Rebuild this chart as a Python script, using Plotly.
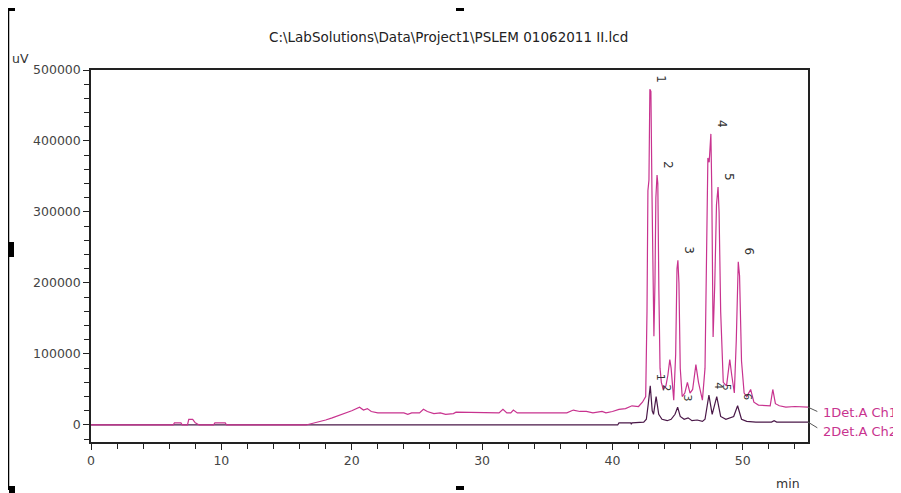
import plotly.graph_objects as go

# ---- data (time in min, signal in uV) ----
ch1_time = [0, 6.3, 6.4, 6.9, 7.0, 7.4, 7.5, 7.8, 8.0, 8.3, 9.4, 9.5, 10.3, 10.4, 16.5, 17.0, 17.5, 18.0, 18.5,
            19.0, 19.5, 20.0, 20.6, 20.9, 21.2, 21.5, 22.0, 24.0, 24.3, 24.6, 25.2, 25.5, 25.8, 26.3, 26.8, 27.2,
            27.8, 28.0, 31.3, 31.6, 31.9, 32.2, 32.4, 32.7, 34.0, 36.5, 37.0, 37.5, 38.0, 38.5, 39.2, 39.5, 40.0,
            40.5, 41.0, 41.5, 42.0, 42.3, 42.55, 42.65, 42.72, 42.8, 42.87, 42.95, 43.03, 43.1, 43.18, 43.26,
            43.33, 43.42, 43.48, 43.56, 43.65, 43.75, 43.9, 44.1, 44.25, 44.4, 44.5, 44.7, 44.85, 44.95, 45.02,
            45.1, 45.2, 45.35, 45.55, 45.75, 45.95, 46.15, 46.4, 46.6, 46.9, 47.1, 47.22, 47.32, 47.42, 47.55,
            47.62, 47.72, 47.85, 47.98, 48.1, 48.18, 48.3, 48.5, 48.75, 49.0, 49.15, 49.35, 49.5, 49.58, 49.65,
            49.75, 49.9, 50.1, 50.3, 50.6, 50.85, 51.2, 51.7, 52.1, 52.3, 52.5, 52.8, 53.3, 54.0, 55.0]
ch1_uv = [0, 0, 3000, 3000, 0, 0, 8000, 8000, 3000, 0, 0, 3000, 3000, 0, 0, 2000, 4000, 7000, 10000,
          13000, 17000, 20000, 25000, 21000, 23000, 19000, 17000, 17000, 15000, 17000, 17000, 22000, 19000, 16000, 17000, 15000,
          16000, 18000, 17000, 22000, 17000, 17000, 21000, 17000, 17000, 17000, 21000, 19000, 19000, 17000, 19000, 17000, 19000,
          22000, 23000, 27000, 26000, 32000, 40000, 160000, 330000, 345000, 473000, 470000, 330000, 180000, 125000, 200000,
          320000, 352000, 340000, 190000, 80000, 60000, 50000, 55000, 70000, 92000, 80000, 35000, 100000, 220000, 232000,
          200000, 80000, 40000, 45000, 60000, 45000, 50000, 85000, 60000, 35000, 80000, 260000, 376000, 370000, 410000,
          330000, 124000, 200000, 310000, 335000, 300000, 160000, 60000, 55000, 92000, 70000, 45000, 120000, 200000, 230000,
          210000, 90000, 45000, 40000, 50000, 32000, 28000, 27000, 27000, 50000, 30000, 27000, 25000, 26000, 25000]

ch2_time = [0, 40.4, 40.5, 41.4, 41.45, 41.5, 42.4, 42.6, 42.75, 42.9, 43.05, 43.15, 43.35, 43.55, 43.8, 44.2,
            44.5, 44.8, 45.0, 45.2, 45.5, 45.8, 46.1, 46.5, 46.9, 47.1, 47.4, 47.65, 48.0, 48.3, 48.7, 49.0,
            49.3, 49.6, 49.9, 50.3, 51.0, 52.2, 52.4, 52.6, 55.0]
ch2_uv = [0, 0, 3000, 3000, 1000, 3000, 4000, 8000, 30000, 55000, 20000, 15000, 40000, 15000, 8000, 6000,
          8000, 15000, 25000, 12000, 8000, 10000, 6000, 7000, 5000, 8000, 42000, 15000, 40000, 12000, 8000, 10000,
          12000, 27000, 8000, 5000, 4000, 4000, 6000, 4000, 4000]

peak_labels = ["1", "2", "3", "4", "5", "6"]
ch1_peak_time = [42.87, 43.42, 45.02, 47.55, 48.1, 49.65]
ch1_peak_uv = [473000, 352000, 232000, 410000, 335000, 230000]
ch2_peak_time = [42.9, 43.35, 45.0, 47.4, 48.0, 49.6]
ch2_peak_uv = [55000, 40000, 25000, 42000, 40000, 27000]

series_names = ["1Det.A Ch1", "2Det.A Ch2"]
title_text = "C:\\LabSolutions\\Data\\Project1\\PSLEM 01062011 II.lcd"

C1 = "#C8338F"
C2 = "#4A1848"
FONT = "DejaVu Sans, Liberation Sans, Arial, sans-serif"

fig = go.Figure()
fig.add_trace(go.Scatter(x=ch2_time, y=ch2_uv, mode="lines", line=dict(color=C2, width=1.2),
                         name=series_names[1], showlegend=False))
fig.add_trace(go.Scatter(x=ch1_time, y=ch1_uv, mode="lines", line=dict(color=C1, width=1.2),
                         name=series_names[0], showlegend=False))

ann = []
for lab, t, v in zip(peak_labels, ch1_peak_time, ch1_peak_uv):
    ann.append(dict(x=t, y=v, text=lab, showarrow=False, textangle=90, xshift=11, yshift=10,
                    font=dict(size=12, color="#333", family=FONT)))
for lab, t, v in zip(peak_labels, ch2_peak_time, ch2_peak_uv):
    ann.append(dict(x=t, y=v, text=lab, showarrow=False, textangle=90, xshift=10, yshift=9,
                    font=dict(size=11, color="#333", family=FONT)))

# series labels at right
ann.append(dict(x=55, y=ch1_uv[-1], xref="x", yref="y", text=series_names[0], showarrow=False,
                xanchor="left", xshift=13, yshift=-5, font=dict(size=13, color=C1, family=FONT)))
ann.append(dict(x=55, y=ch2_uv[-1], xref="x", yref="y", text=series_names[1], showarrow=False,
                xanchor="left", xshift=13, yshift=-9, font=dict(size=13, color=C1, family=FONT)))
ann.append(dict(x=0.5, y=1, xref="paper", yref="paper", text=title_text, showarrow=False,
                yanchor="bottom", yshift=23, xshift=-1, font=dict(size=13.5, color="#222", family=FONT)))
ann.append(dict(x=0, y=1, xref="paper", yref="paper", text="uV", showarrow=False,
                xanchor="right", yanchor="bottom", xshift=-60, yshift=2, font=dict(size=12.5, color="#333", family=FONT)))
ann.append(dict(x=1, y=0, xref="paper", yref="paper", text="min", showarrow=False,
                xanchor="right", yanchor="top", xshift=-6, yshift=-32, font=dict(size=12.5, color="#333", family=FONT)))

shapes = [
    # leader lines to series labels
    dict(type="line", xref="paper", yref="y", x0=1.0, x1=1.013, y0=ch1_uv[-1], y1=ch1_uv[-1] - 6000,
         line=dict(color="#555", width=1)),
    dict(type="line", xref="paper", yref="y", x0=1.0, x1=1.013, y0=ch2_uv[-1], y1=ch2_uv[-1] - 8000,
         line=dict(color="#555", width=1)),
]
# page body has an 8px margin; figure is sized to fill the window
OFF = 8
W, H = 901 - OFF, 493 - OFF
L, R, T, B = 91 - OFF, 901 - 808, 70 - OFF, 493 - 442
pw, ph = W - L - R, H - T - B
def px(x):
    return (x - OFF - L) / pw
def py(y):
    return (H - B - (y - OFF)) / ph
shapes.append(dict(type="line", xref="paper", yref="paper", x0=px(8.5), x1=px(8.5), y0=py(9), y1=py(490),
                   line=dict(color="#000", width=1.5)))
for (x0, y0, x1, y1) in [(8, 8, 15, 11), (8, 242, 14, 257), (9, 486, 15, 493), (456, 8, 464, 11), (456, 486, 464, 490)]:
    shapes.append(dict(type="rect", xref="paper", yref="paper", x0=px(x0), x1=px(x1), y0=py(y1), y1=py(y0),
                       fillcolor="#000", line=dict(width=0)))

axis_common = dict(showline=True, linecolor="#222", linewidth=1.5, mirror=True, ticks="outside",
                   ticklen=6, tickcolor="#222", showgrid=False, zeroline=False, automargin=False,
                   tickfont=dict(size=12.5, color="#444", family=FONT))
fig.update_layout(
    width=W, height=H, margin=dict(l=L, r=R, t=T, b=B, autoexpand=False),
    paper_bgcolor="white", plot_bgcolor="white",
    xaxis=dict(range=[0, 55], tickvals=[0, 10, 20, 30, 40, 50],
               minor=dict(tickvals=[2, 4, 6, 8, 12, 14, 16, 18, 22, 24, 26, 28, 32, 34, 36, 38, 42, 44, 46, 48, 52, 54],
                          ticks="outside", ticklen=5, tickcolor="#222"),
               **axis_common),
    yaxis=dict(range=[-24000, 500000], tickvals=[0, 100000, 200000, 300000, 400000, 500000],
               ticktext=["0", "100000", "200000", "300000", "400000", "500000"],
               minor=dict(tickvals=[-20000] + [v for v in range(20000, 500000, 20000) if v % 100000 != 0],
                          ticks="outside", ticklen=5, tickcolor="#222"),
               **axis_common),
    annotations=ann, shapes=shapes,
)
fig.write_html("out.html")
